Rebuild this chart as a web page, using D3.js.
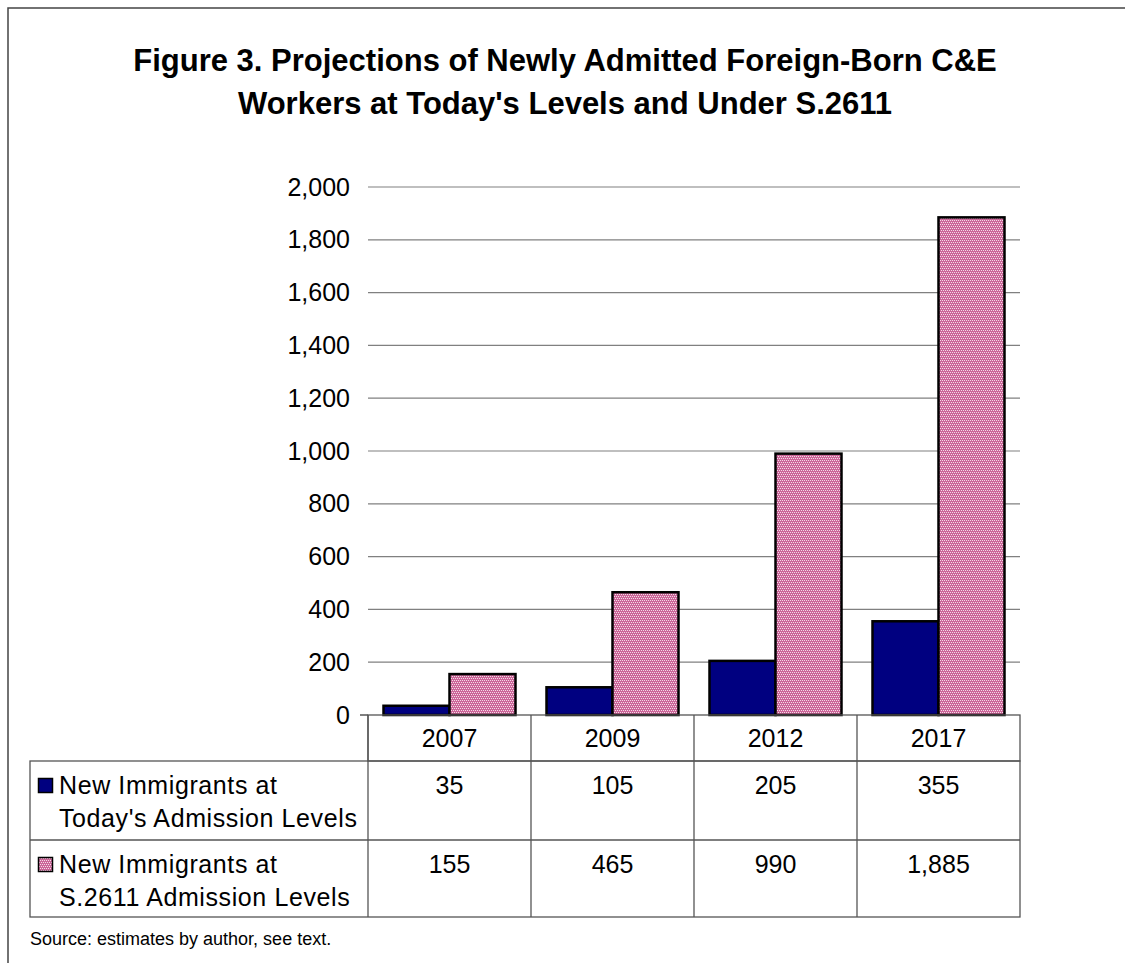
<!DOCTYPE html>
<html><head><meta charset="utf-8">
<script src="https://cdn.jsdelivr.net/npm/d3@7"></script>
<style>body{margin:0;background:#fff}svg{display:block}text{font-family:"Liberation Sans",Arial,sans-serif}</style>
</head><body>
<script>
const categories = ["2007", "2009", "2012", "2017"];
const seriesNames = ["New Immigrants at|Today's Admission Levels", "New Immigrants at|S.2611 Admission Levels"];
const todayValues = [35, 105, 205, 355];
const s2611Values = [155, 465, 990, 1885];
const yTicks = [0, 200, 400, 600, 800, 1000, 1200, 1400, 1600, 1800, 2000];
const titleLines = ["Figure 3. Projections of Newly Admitted Foreign-Born C&E", "Workers at Today's Levels and Under S.2611"];
const sourceText = "Source: estimates by author, see text.";

(function(){
const W = 1125, H = 963;
const svg = d3.select("body").append("svg").attr("width", W).attr("height", H);
const defs = svg.append("defs");
const pat = defs.append("pattern").attr("id", "pinkpat").attr("patternUnits", "userSpaceOnUse").attr("width", 4).attr("height", 4);
pat.append("rect").attr("width", 4).attr("height", 4).attr("fill", "#cc6699");
[[0,0],[2,0],[1,2],[3,2]].forEach(([px,py]) => pat.append("rect").attr("x", px).attr("y", py).attr("width", 1).attr("height", 1).attr("fill", "#f4dce8"));

// outer frame
svg.append("path").attr("d", `M8,${H+2}V8H${W+2}`).attr("fill", "none").attr("stroke", "#444").attr("stroke-width", 1.5);

// title
svg.append("text").attr("text-anchor", "middle")
  .attr("font-size", 31).attr("font-weight", "bold").attr("fill", "#000")
  .selectAll("tspan").data(titleLines).join("tspan")
  .attr("x", 565).attr("y", (d, i) => 71 + i * 43).text(d => d);

const pLeft = 368, pRight = 1020, pTop = 187, pBottom = 715;
const x = d3.scaleBand().domain(categories).range([pLeft, pRight]).paddingInner(0).paddingOuter(0);
const y = d3.scaleLinear().domain([0, 2000]).range([pBottom, pTop]);

// gridlines
svg.append("g").selectAll("line").data(yTicks.filter(t => t > 0)).join("line")
  .attr("x1", pLeft).attr("x2", pRight).attr("y1", d => y(d)).attr("y2", d => y(d))
  .attr("stroke", "#808080").attr("stroke-width", 1.2);

// y axis labels
const yAxis = d3.axisLeft(y).tickValues(yTicks).tickFormat(d3.format(",")).tickSize(0).tickPadding(18);
const ga = svg.append("g").attr("transform", `translate(${pLeft},0)`).call(yAxis);
ga.select(".domain").remove();
ga.selectAll("text").attr("font-size", 25).attr("fill", "#000").attr("font-family", "'Liberation Sans', Arial, sans-serif");
svg.append("line").attr("x1", pLeft - 8).attr("x2", pLeft).attr("y1", y(0)).attr("y2", y(0)).attr("stroke", "#000");

// bars
const bw = x.bandwidth();
const barW = 66;
const groupPad = (bw - 2 * barW) / 2;
const g = svg.append("g");
g.selectAll(".b1").data(categories).join("rect").attr("class", "b1")
  .attr("x", (d) => x(d) + groupPad).attr("width", barW)
  .attr("y", (d, i) => y(todayValues[i])).attr("height", (d, i) => y(0) - y(todayValues[i]))
  .attr("fill", "#000080").attr("stroke", "#000").attr("stroke-width", 2.5);
g.selectAll(".b2").data(categories).join("rect").attr("class", "b2")
  .attr("x", (d) => x(d) + groupPad + barW).attr("width", barW)
  .attr("y", (d, i) => y(s2611Values[i])).attr("height", (d, i) => y(0) - y(s2611Values[i]))
  .attr("fill", "url(#pinkpat)").attr("stroke", "#000").attr("stroke-width", 2.5);

// data table
const tableLeft = 30;
const rowY = [pBottom, 761, 840, 917];
const tg = svg.append("g").attr("stroke", "#555").attr("stroke-width", 1.3).attr("fill", "none");
tg.append("rect").attr("x", pLeft).attr("y", rowY[0]).attr("width", pRight - pLeft).attr("height", rowY[1] - rowY[0]);
tg.append("rect").attr("x", tableLeft).attr("y", rowY[1]).attr("width", pRight - tableLeft).attr("height", rowY[3] - rowY[1]);
tg.append("line").attr("x1", tableLeft).attr("x2", pRight).attr("y1", rowY[2]).attr("y2", rowY[2]);
tg.selectAll(".vd").data(categories).join("line").attr("class", "vd")
  .attr("x1", d => x(d)).attr("x2", d => x(d)).attr("y1", rowY[0]).attr("y2", rowY[3]);

svg.append("g").selectAll("text").data(categories).join("text")
  .attr("x", d => x(d) + bw / 2).attr("y", 747).attr("text-anchor", "middle")
  .attr("font-size", 25).attr("fill", "#000").text(d => d);

const fmt = d3.format(",");
const rows = [todayValues, s2611Values];
const rowBase = [794, 873];
rows.forEach((vals, r) => {
  svg.append("g").selectAll("text").data(categories).join("text")
    .attr("x", d => x(d) + bw / 2).attr("y", rowBase[r]).attr("text-anchor", "middle")
    .attr("font-size", 25).attr("fill", "#000").text((d, i) => fmt(vals[i]));
  const lines = seriesNames[r].split("|");
  svg.append("text").attr("font-size", 25).attr("fill", "#000").attr("letter-spacing", 0.6)
    .selectAll("tspan").data(lines).join("tspan")
    .attr("x", 59).attr("y", (d, i) => rowBase[r] + i * 33).text(d => d);
  svg.append("rect").attr("x", 38.5).attr("y", rowBase[r] - 15.5).attr("width", 14).attr("height", 14)
    .attr("fill", r === 0 ? "#000080" : "url(#pinkpat)").attr("stroke", "#000").attr("stroke-width", 1.5);
});

svg.append("text").attr("x", 30).attr("y", 945).attr("font-size", 18).attr("fill", "#000").text(sourceText);
})();
</script>
</body></html>
